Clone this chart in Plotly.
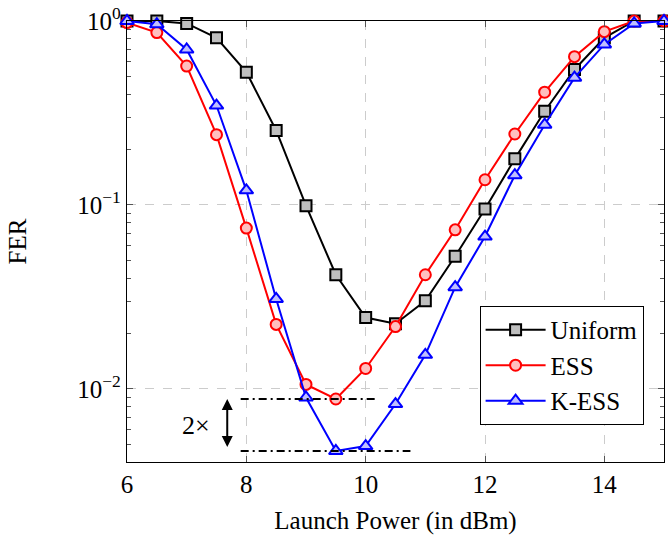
import math
import plotly.graph_objects as go

# ---- data ----
power = [6, 6.5, 7, 7.5, 8, 8.5, 9, 9.5, 10, 10.5, 11, 11.5, 12, 12.5, 13, 13.5, 14, 14.5, 15]
fer_uniform = [1.0, 1.0, 0.97, 0.81, 0.527, 0.254, 0.099, 0.0417, 0.0244, 0.0226, 0.0301, 0.0526,
               0.095, 0.178, 0.323, 0.545, 0.81, 1.0, 1.0]
fer_ess = [0.98, 0.865, 0.569, 0.241, 0.0748, 0.0224, 0.01057, 0.0088, 0.0129, 0.0218, 0.0417,
           0.0732, 0.137, 0.243, 0.41, 0.64, 0.875, 1.0, 1.0]
fer_kess = [1.0, 0.96, 0.70, 0.347, 0.12, 0.0308, 0.00897, 0.00459, 0.00488, 0.00826, 0.0153,
            0.0357, 0.0673, 0.145, 0.273, 0.492, 0.746, 0.97, 1.0]

series_names = ["Uniform", "ESS", "K-ESS"]
y_ticks = [1e-2, 1e-1, 1]
y_ticktext = ["10<sup>−2</sup>", "10<sup>−1</sup>", "10<sup>0</sup>"]
x_ticks = [6, 8, 10, 12, 14]

FONT = "Liberation Serif, Times New Roman, serif"

fig = go.Figure()

styles = [
    dict(color="black", fill="#bfbfbf", symbol="square", size=11),
    dict(color="red", fill="#ffbfbf", symbol="circle", size=11),
    dict(color="blue", fill="#bfbfff", symbol="triangle-up", size=12),
]
for name, ys, st in zip(series_names, [fer_uniform, fer_ess, fer_kess], styles):
    fig.add_trace(go.Scatter(
        x=power, y=ys, name=name, mode="lines+markers", cliponaxis=False,
        line=dict(color=st["color"], width=2),
        marker=dict(symbol=st["symbol"], size=st["size"], color=st["fill"],
                    line=dict(color=st["color"], width=2)),
    ))

# 2x gap annotation lines (levels taken from data minima)
ess_min = min(fer_ess)
kess_min = min(fer_kess)
dash_pat = "8px,4px,2px,4px"
fig.add_trace(go.Scatter(x=[7.905, 10.2], y=[ess_min, ess_min], mode="lines", showlegend=False,
                         line=dict(color="black", width=2, dash=dash_pat), hoverinfo="skip"))
fig.add_trace(go.Scatter(x=[7.905, 10.75], y=[kess_min, kess_min], mode="lines", showlegend=False,
                         line=dict(color="black", width=2, dash=dash_pat), hoverinfo="skip"))

fig.add_annotation(x=7.68, y=math.log10(ess_min), ax=7.68, ay=math.log10(kess_min),
                   xref="x", yref="y", axref="x", ayref="y", text=" ", showarrow=True,
                   arrowside="end+start", arrowhead=2, arrowsize=1.1, arrowwidth=2,
                   arrowcolor="black", standoff=0, startstandoff=0,
                   font=dict(family=FONT, size=4))
fig.add_annotation(x=7.15, y=math.log10(math.sqrt(ess_min * kess_min)), xref="x", yref="y",
                   text="2×", showarrow=False, font=dict(family=FONT, size=26, color="black"))

minor_vals = [m * 10 ** e for e in (-3, -2, -1) for m in range(2, 10)]

axis_common = dict(
    showline=True, linecolor="black", linewidth=1.3, mirror="allticks",
    ticks="inside", ticklen=6, tickcolor="#555", tickwidth=1,
    showgrid=True, gridcolor="#cccccc", griddash="dash", gridwidth=1,
    zeroline=False, tickfont=dict(family=FONT, size=25, color="black"),
)

fig.update_xaxes(range=[6, 15], tickmode="array", tickvals=x_ticks,
                 title=dict(text="Launch Power (in dBm)", font=dict(family=FONT, size=25, color="black"),
                            standoff=14),
                 **axis_common)
fig.update_yaxes(type="log", range=[-2.398, 0], tickmode="array", tickvals=y_ticks, ticktext=y_ticktext,
                 minor=dict(tickmode="array", tickvals=minor_vals, ticks="inside", ticklen=4,
                            tickcolor="#555", showgrid=False),
                 title=dict(text="FER", font=dict(family=FONT, size=25, color="black"), standoff=43),
                 **axis_common)

fig.update_layout(
    width=668, height=537,
    margin=dict(l=127, r=4, t=21, b=75),
    plot_bgcolor="white", paper_bgcolor="white",
    font=dict(family=FONT, color="black"),
    legend=dict(x=0.962, y=0.084, xanchor="right", yanchor="bottom",
                bordercolor="black", borderwidth=1, bgcolor="white",
                font=dict(family=FONT, size=25, color="black"),
                itemwidth=60, tracegroupgap=0),
    showlegend=True,
)

fig.write_html("out.html")
